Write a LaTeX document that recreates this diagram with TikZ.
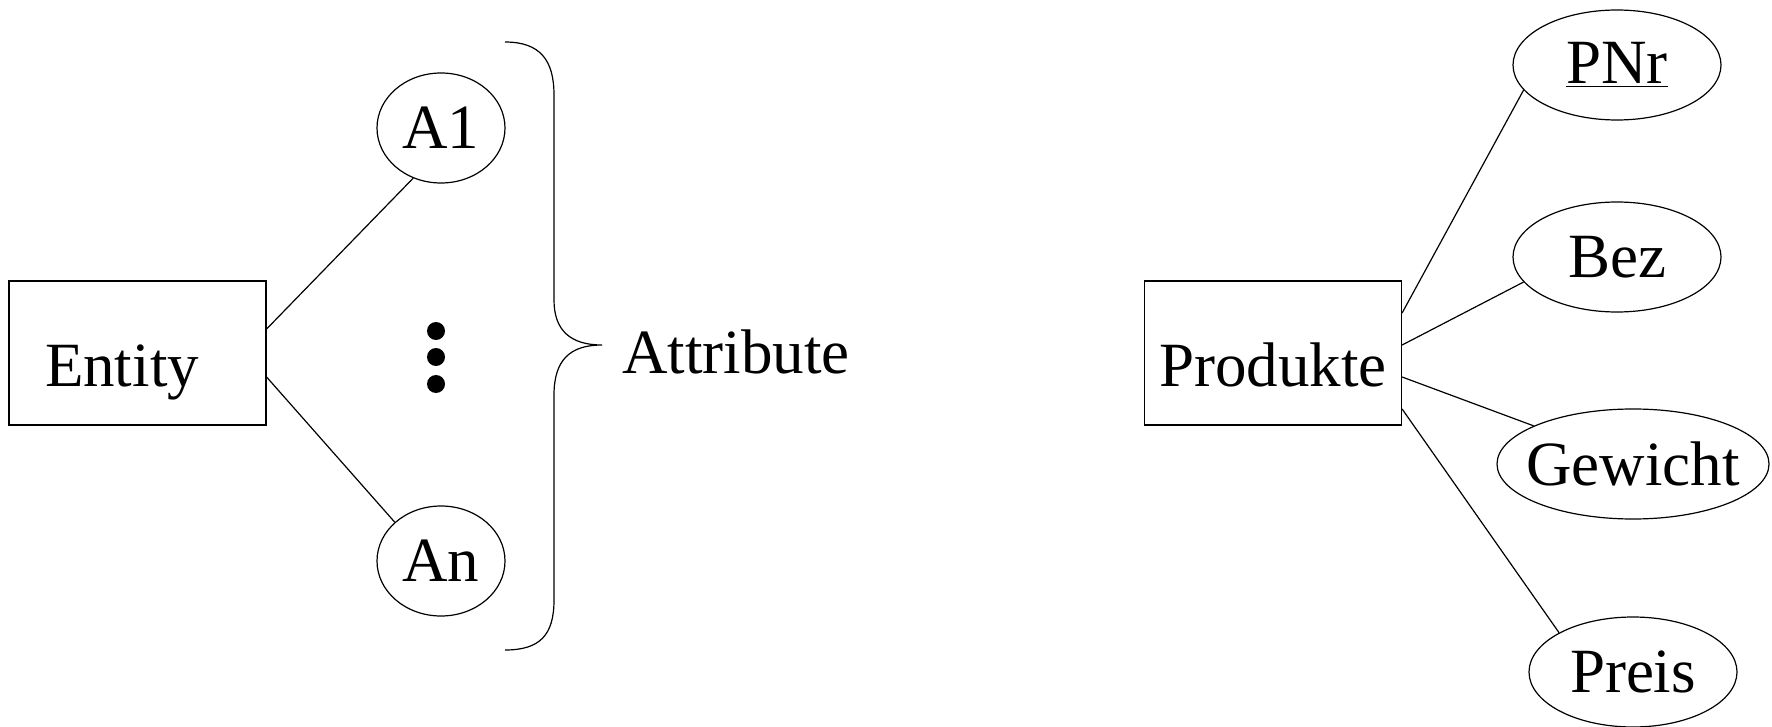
\documentclass[tikz,border=0pt]{standalone}
\usepackage{fontspec}
\setmainfont{Liberation Serif}
\usetikzlibrary{shapes.geometric}

\tikzset{
  entbox/.style={draw, line width=0.6pt, rectangle, minimum width=128.5pt, minimum height=72pt,
                 inner sep=0pt, text height=33pt, text depth=0pt},
  attr/.style={draw, line width=0.6pt, ellipse, inner sep=0pt, minimum height=55pt},
  conn/.style={line width=0.6pt},
}

\begin{document}
\begin{tikzpicture}[x=0.5pt, y=-0.5pt, font=\fontsize{31.5}{36}\selectfont]
\useasboundingbox (0,0) rectangle (1772,727);
% generic entity with attributes
\node[entbox, text width=92.5pt, align=left] (ent) at (137.5,353) {Entity};
\node[attr, minimum width=64pt] (a1) at (441,128) {A1};
\node[attr, minimum width=64pt] (an) at (441,561) {An};
\foreach \y in {331,357,384}
   \fill (436,\y) circle[radius=4.5pt];
\draw[conn] ([yshift=12pt]ent.east) -- (a1.241);
\draw[conn] ([yshift=-12pt]ent.east) -- (an.140);
\draw[conn] (505,42) .. controls (540,42) and (554,60) .. (554,95) -- (554,300)
   .. controls (554,330) and (570,345) .. (602,345)
   .. controls (570,345) and (554,360) .. (554,395) -- (554,600)
   .. controls (554,635) and (540,650) .. (505,650);
\node[anchor=base west, inner sep=0pt] (attrlbl) at (622,373) {Attribute};
% example: Produkte
\node[entbox] (prod) at (1273,353) {Produkte};
\node[attr, minimum width=104pt] (pnr) at (1617,65) {\underline{PNr}};
\node[attr, minimum width=104pt] (bez) at (1617,257) {Bez};
\node[attr, minimum width=136pt, inner xsep=-6pt] (gew) at (1633,464) {Gewicht};
\node[attr, minimum width=104pt] (preis) at (1633,672) {Preis};
\draw[conn] ([yshift=20pt]prod.east) -- (pnr.195);
\draw[conn] ([yshift=4pt]prod.east) -- (bez.195);
\draw[conn] ([yshift=-12pt]prod.east) -- (gew.159);
\draw[conn] ([yshift=-28pt]prod.east) -- (preis.152);
\end{tikzpicture}
\end{document}
